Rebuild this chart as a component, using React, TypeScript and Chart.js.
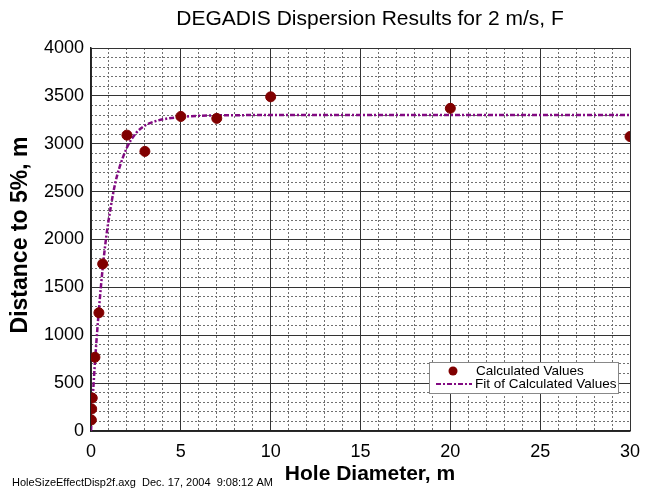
import React, { useEffect, useRef } from "react";
import { Chart, registerables } from "chart.js";

Chart.register(...registerables);

const titleText = "DEGADIS Dispersion Results for 2 m/s, F";
const xTitle = "Hole Diameter, m";
const yTitle = "Distance to 5%, m";
const footerText = "HoleSizeEffectDisp2f.axg  Dec. 17, 2004  9:08:12 AM";
const legendLabels = ["Calculated Values", "Fit of Calculated Values"];

const holeDiameter = [0.02, 0.04, 0.07, 0.22, 0.44, 0.65, 2, 3, 5, 7, 10, 20, 30];
const distance = [115, 230, 345, 770, 1235, 1745, 3090, 2920, 3285, 3265, 3490, 3370, 3075];

const fitX = [0, 0.1, 0.2, 0.3, 0.45, 0.65, 0.85, 1.1, 1.35, 1.6, 2, 2.5, 3, 3.5, 4, 5, 6, 8, 10, 15, 20, 25, 30];
const fitY = [0, 350, 660, 930, 1290, 1700, 2030, 2340, 2590, 2760, 2960, 3110, 3190, 3230, 3255, 3280, 3292, 3298, 3300, 3300, 3300, 3300, 3300];

const FONT = "'Liberation Sans', Arial, Helvetica, sans-serif";
const POINT_COLOR = "#800000";
const LINE_COLOR = "#820a82";
const LINE_DASH = [5, 2, 2, 2];

const decorPlugin = {
  id: "decor",
  afterDraw(chart: any) {
    const ctx = chart.ctx;
    ctx.save();
    ctx.fillStyle = "#000";
    ctx.textBaseline = "middle";
    ctx.font = `21px ${FONT}`;
    ctx.textAlign = "center";
    ctx.fillText(titleText, 370, 19);
    ctx.font = `bold 21px ${FONT}`;
    ctx.fillText(xTitle, 370, 474);
    ctx.save();
    ctx.translate(21, 235);
    ctx.rotate(-Math.PI / 2);
    ctx.font = `bold 23px ${FONT}`;
    ctx.fillText(yTitle, 0, 0);
    ctx.restore();
    ctx.font = `11px ${FONT}`;
    ctx.textAlign = "left";
    ctx.fillText(footerText, 12, 483);

    const lx = 429, ly = 362, lw = 189, lh = 31;
    ctx.fillStyle = "#fff";
    ctx.fillRect(lx, ly, lw, lh);
    ctx.strokeStyle = "#888";
    ctx.lineWidth = 1;
    ctx.strokeRect(lx + 0.5, ly + 0.5, lw, lh);
    ctx.fillStyle = POINT_COLOR;
    ctx.beginPath();
    ctx.arc(453, 371, 4.5, 0, Math.PI * 2);
    ctx.fill();
    ctx.strokeStyle = LINE_COLOR;
    ctx.lineWidth = 2;
    ctx.setLineDash(LINE_DASH);
    ctx.beginPath();
    ctx.moveTo(436, 384);
    ctx.lineTo(472, 384);
    ctx.stroke();
    ctx.setLineDash([]);
    ctx.fillStyle = "#000";
    ctx.font = `13.5px ${FONT}`;
    ctx.fillText(legendLabels[0], 476, 371);
    ctx.fillText(legendLabels[1], 475, 384);
    ctx.restore();
  },
};

export default function App() {
  const ref = useRef<HTMLCanvasElement | null>(null);
  useEffect(() => {
    if (!ref.current) return;
    const chart = new Chart(ref.current, {
      type: "scatter",
      data: {
        datasets: [
          {
            label: legendLabels[0],
            data: holeDiameter.map((x, i) => ({ x, y: distance[i] })),
            backgroundColor: POINT_COLOR,
            borderColor: POINT_COLOR,
            pointRadius: 5,
            pointHoverRadius: 5,
            showLine: false,
            xAxisID: "x",
            yAxisID: "y",
          },
          {
            type: "line",
            label: legendLabels[1],
            data: fitX.map((x, i) => ({ x, y: fitY[i] })),
            borderColor: LINE_COLOR,
            backgroundColor: LINE_COLOR,
            borderWidth: 2.5,
            borderDash: LINE_DASH,
            pointRadius: 0,
            fill: false,
            cubicInterpolationMode: "monotone",
            xAxisID: "x",
            yAxisID: "y",
          } as any,
        ],
      },
      options: {
        responsive: false,
        animation: false,
        events: [],
        layout: { padding: { left: 0, right: 22, top: 48, bottom: 0 } },
        plugins: {
          legend: { display: false },
          title: { display: false },
          tooltip: { enabled: false },
        },
        scales: {
          xMinor: {
            type: "linear",
            position: "bottom",
            min: 0,
            max: 30,
            ticks: { display: false, stepSize: 1 },
            grid: { color: "#707070", lineWidth: 1, drawTicks: false },
            border: { display: false, dash: [2, 2] },
            afterFit(s: any) { s.height = 0; },
          },
          yMinor: {
            type: "linear",
            position: "left",
            min: 0,
            max: 4000,
            ticks: { display: false, stepSize: 100 },
            grid: { color: "#707070", lineWidth: 1, drawTicks: false },
            border: { display: false, dash: [2, 2] },
            afterFit(s: any) { s.width = 0; },
          },
          x: {
            type: "linear",
            position: "bottom",
            min: 0,
            max: 30,
            ticks: { stepSize: 5, color: "#000", font: { size: 18, family: FONT }, padding: 10 },
            grid: { color: "#333", lineWidth: 1, drawTicks: false },
            border: { display: true, color: "#222", width: 1.5 },
            afterFit(s: any) { s.height = 57; },
          },
          y: {
            type: "linear",
            position: "left",
            min: 0,
            max: 4000,
            ticks: {
              stepSize: 500,
              color: "#000",
              font: { size: 18, family: FONT },
              padding: 7,
              callback: (v: any) => String(v),
            },
            grid: { color: "#333", lineWidth: 1, drawTicks: false },
            border: { display: true, color: "#222", width: 1.5 },
            afterFit(s: any) { s.width = 91; },
          },
        } as any,
      },
      plugins: [decorPlugin],
    });
    return () => chart.destroy();
  }, []);
  return (
    <canvas
      ref={ref}
      width={652}
      height={488}
      style={{ position: "absolute", left: 0, top: 0, display: "block" }}
    />
  );
}
